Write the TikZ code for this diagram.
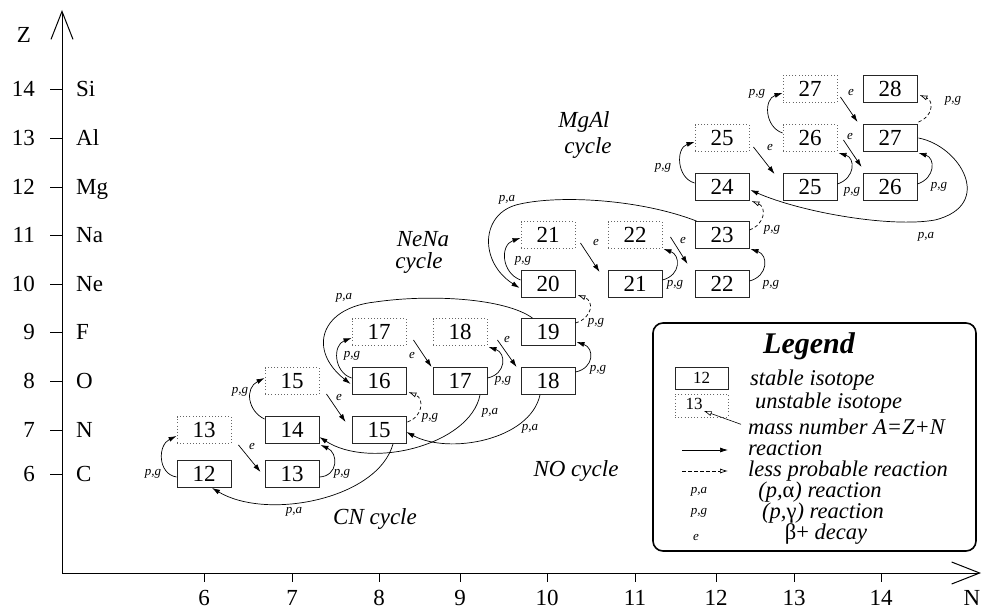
\documentclass[tikz,border=0pt]{standalone}
\usepackage{fontspec}
\setmainfont{Liberation Serif}
\usetikzlibrary{arrows.meta,calc}
\begin{document}
\begin{tikzpicture}[x=1pt,y=-1pt,
  iso/.style={draw=black!85, line width=0.9pt, minimum width=54pt, minimum height=27pt,
    inner sep=0pt, font=\fontsize{23}{23}\selectfont},
  stable/.style={iso},
  unstable/.style={iso, draw=black!60, dash pattern=on 1pt off 2.2pt},
  rx/.style={line width=0.7pt, -{Latex[length=8pt,width=5pt]}},
  weakrx/.style={line width=0.7pt, dash pattern=on 3.5pt off 2.5pt, -{Latex[open,length=8pt,width=5pt]}},
  rlab/.style={font=\fontsize{13}{13}\selectfont\itshape, inner sep=0pt},
  axlab/.style={font=\fontsize{23}{23}\selectfont, inner sep=0pt},
  axisline/.style={line width=1pt, -{Straight Barb[length=28pt,width=22pt,line width=1pt]}},
  tick/.style={line width=0.8pt},
  cyc/.style={font=\fontsize{23}{23}\selectfont\itshape, inner sep=0pt, anchor=base},
  legtxt/.style={font=\fontsize{22.5}{22.5}\selectfont\itshape, inner sep=0pt, anchor=base west},
]
\useasboundingbox (0,0) rectangle (983,610);

% ---------- axes ----------
\coordinate (O) at (62,573);
\coordinate (ztip) at (62,10);
\coordinate (ntip) at (981,573);
\draw[axisline] (O) -- (ztip);
\draw[axisline] (O) -- (ntip);
\node[axlab] (zlab) at (24,35) {Z};
\node[axlab, anchor=base] (nlab) at (972,605) {N};

\foreach \z/\el/\yy in {6/C/474, 7/N/430, 8/O/381, 9/F/332, 10/Ne/284,
                        11/Na/235, 12/Mg/187, 13/Al/138, 14/Si/89} {
  \draw[tick] (50,\yy) -- (62,\yy);
  \node[axlab, anchor=base east] (z\z) at (35,\yy+7.5) {\z};
  \node[axlab, anchor=base west] (el\z) at (76,\yy+7.5) {\el};
}
\foreach \n/\xx in {6/204, 7/292, 8/379, 9/460, 10/547, 11/635, 12/716, 13/794, 14/881} {
  \draw[tick] (\xx,573) -- (\xx,582);
  \node[axlab, anchor=base] (n\n) at (\xx,605) {\n};
}

% ---------- isotopes ----------
\node[stable]   (c12)  at (204,474) {12};
\node[unstable] (n13)  at (204,430) {13};
\node[stable]   (c13)  at (292,474) {13};
\node[stable]   (n14)  at (292,430) {14};
\node[unstable] (o15)  at (292,381) {15};
\node[stable]   (n15)  at (379,430) {15};
\node[stable]   (o16)  at (379,381) {16};
\node[unstable] (f17)  at (379,332) {17};
\node[stable]   (o17)  at (460,381) {17};
\node[unstable] (f18)  at (460,332) {18};
\node[stable]   (o18)  at (548,381) {18};
\node[stable]   (f19)  at (548,332) {19};
\node[stable]   (ne20) at (548,284) {20};
\node[unstable] (na21) at (548,235) {21};
\node[stable]   (ne21) at (635,284) {21};
\node[unstable] (na22) at (635,235) {22};
\node[stable]   (ne22) at (722,284) {22};
\node[stable]   (na23) at (722,235) {23};
\node[stable]   (mg24) at (722,187) {24};
\node[unstable] (al25) at (722,138) {25};
\node[stable]   (mg25) at (810,187) {25};
\node[unstable] (al26) at (810,138) {26};
\node[stable]   (mg26) at (890,187) {26};
\node[unstable] (si27) at (810,89)  {27};
\node[stable]   (al27) at (890,138) {27};
\node[stable]   (si28) at (890,89)  {28};

% ---------- CN cycle ----------
\draw[rx] ($(c12.west)+(0,3)$) .. controls +(-19,-3) and +(-19,9) .. ($(n13.west)+(0,6)$);
\node[rlab] (l1) at (153,474) {p,g};
\draw[rx] ($(n13.south east)+(7,1)$) -- ($(c13.west)+(-4,-2)$);
\node[rlab] (l2) at (252,446) {e};
\draw[rx] ($(c13.east)+(0,3)$) .. controls +(19,-1) and +(18,8) .. ($(n14.south east)+(1,1)$);
\node[rlab] (l3) at (342,474) {p,g};
\draw[rx] ($(n14.north west)+(0,3)$) .. controls +(-17,-8) and +(-20,10) .. ($(o15.west)+(0,-3)$);
\node[rlab] (l4) at (240,392) {p,g};
\draw[rx] ($(o15.south east)+(7,-1)$) -- ($(n15.west)+(-6,-8)$);
\node[rlab] (l5) at (339,397) {e};
\draw[rx] ($(n15.south)+(14,0)$) .. controls +(-15,55) and +(55,33) .. ($(c12.south)+(8,0)$);
\node[rlab] (l6) at (294,512) {p,a};

% ---------- NO cycle ----------
\draw[weakrx] ($(n15.east)+(1,-8)$) .. controls +(14,-4) and +(17,7) .. ($(o16.south east)+(2,-3)$);
\node[rlab] (l7) at (430,418) {p,g};
\draw[rx] ($(o16.west)+(0,-3)$) .. controls +(-18,-6) and +(-19,7) .. ($(f17.west)+(0,6)$);
\node[rlab] (l8) at (352,356) {p,g};
\draw[rx] ($(f17.east)+(7,8)$) -- ($(o17.north west)+(-1,0)$);
\node[rlab] (l9) at (412,355) {e};
\draw[rx] ($(o17.east)+(0,-3)$) .. controls +(19,-4) and +(18,6) .. ($(f18.south east)+(1,1)$);
\node[rlab] (l10) at (503,381) {p,g};
\draw[rx] ($(f18.east)+(10,8)$) -- ($(o18.west)+(-4,-14)$);
\node[rlab] (l11) at (507,339) {e};
\draw[rx] ($(o18.east)+(0,-9)$) .. controls +(19,-4) and +(18,6) .. ($(f19.south east)+(1,-4)$);
\node[rlab] (l12) at (598,370) {p,g};
\draw[rx] ($(f19.north west)+(12,0)$) .. controls +(-28,-20) and (430,294) .. (375,302)
          .. controls (320,308) and +(-43,-34) .. ($(o16.west)+(-1,3)$);
\node[rlab] (l13) at (344,298) {p,a};
\draw[rx] ($(o17.south)+(20,0)$) .. controls +(-10,50) and +(51,33) .. ($(n14.east)+(0,7)$);
\node[rlab] (l14) at (490,413) {p,a};
\draw[rx] ($(o18.south)+(-8,0)$) .. controls +(-10,45) and +(43,23) .. ($(n15.east)+(0,2)$);
\node[rlab] (l15) at (530,429) {p,a};

% ---------- NeNa cycle ----------
\draw[weakrx] ($(f19.east)+(0,-9)$) .. controls +(17,-5) and +(17,6) .. ($(ne20.south east)+(2,-3)$);
\node[rlab] (l16) at (596,323) {p,g};
\draw[rx] ($(ne20.west)+(0,-4)$) .. controls +(-19,-7) and +(-21,7) .. ($(na21.west)+(0,3)$);
\node[rlab] (l17) at (523,261) {p,g};
\draw[rx] ($(na21.east)+(5,8)$) -- ($(ne21.west)+(-8,-12)$);
\node[rlab] (l18) at (596,242) {e};
\draw[rx] ($(ne21.east)+(0,-4)$) .. controls +(19,-5) and +(17,6) .. ($(na22.south east)+(1,0)$);
\node[rlab] (l19) at (675,285) {p,g};
\draw[rx] ($(na22.east)+(8,2)$) -- ($(ne22.north west)+(-7,-6)$);
\node[rlab] (l20) at (683,240) {e};
\draw[rx] ($(ne22.east)+(0,-3)$) .. controls +(19,-5) and +(18,6) .. ($(na23.south east)+(1,0)$);
\node[rlab] (l21) at (771,285) {p,g};
\draw[rx] ($(na23.north west)+(2,0)$) .. controls +(-57,-22) and (560,195) .. (520,204)
          .. controls (480,212) and +(-41,-26) .. ($(ne20.west)+(-1,4)$);
\node[rlab] (l22) at (507,200) {p,a};
\draw[weakrx] ($(na23.east)+(0,-5)$) .. controls +(16,-6) and +(15,6) .. ($(mg24.south east)+(2,0)$);
\node[rlab] (l23) at (772,230) {p,g};

% ---------- MgAl cycle ----------
\draw[rx] ($(mg24.west)+(0,-4)$) .. controls +(-18,-5) and +(-19,6) .. ($(al25.west)+(0,4)$);
\node[rlab] (l24) at (663,168) {p,g};
\draw[rx] ($(al25.east)+(4,9)$) -- ($(mg25.west)+(-8,-13)$);
\node[rlab] (l25) at (770,147) {e};
\draw[rx] ($(mg25.east)+(0,-3)$) .. controls +(18,-6) and +(17,5) .. ($(al26.south east)+(1,1)$);
\node[rlab] (l26) at (852,192) {p,g};
\draw[rx] ($(al26.east)+(6,2)$) -- ($(mg26.north west)+(-1,-6)$);
\node[rlab] (l27) at (850,137) {e};
\draw[rx] ($(al26.west)+(0,-5)$) .. controls +(-18,-6) and +(-19,6) .. ($(si27.west)+(0,4)$);
\node[rlab] (l28) at (757,94) {p,g};
\draw[rx] ($(si27.east)+(3,8)$) -- ($(al27.west)+(-5,-16)$);
\node[rlab] (l29) at (851,93) {e};
\draw[rx] ($(mg26.east)+(0,-3)$) .. controls +(18,-6) and +(17,5) .. ($(al27.south east)+(1,1)$);
\node[rlab] (l30) at (939,187) {p,g};
\draw[weakrx] ($(al27.north east)+(1,-2)$) .. controls +(14,-5) and +(15,6) .. ($(si28.south east)+(2,-8)$);
\node[rlab] (l31) at (953,101) {p,g};
\draw[rx] ($(al27.east)+(1,0)$) .. controls +(42,8) and (995,205) .. (935,220)
          .. controls (890,228) and +(50,22) .. ($(mg24.east)+(1,3)$);
\node[rlab] (l32) at (926,237) {p,a};

% ---------- cycle names ----------
\node[cyc] (cn)    at (375,524) {CN cycle};
\node[cyc] (no)    at (576,476) {NO cycle};
\node[cyc] (nena)  at (423,246) {NeNa};
\node[cyc] (nenb)  at (419,268) {cycle};
\node[cyc] (mgal)  at (584,128) {MgAl};
\node[cyc] (mgalb) at (588,153) {cycle};

% ---------- legend ----------
\node[draw, line width=1.6pt, rounded corners=10pt, minimum width=323pt,
      minimum height=228pt, inner sep=0pt] (legend) at (814.5,437) {};
\node[font=\fontsize{30}{30}\selectfont\bfseries\itshape, inner sep=0pt, anchor=base]
      (legtitle) at (809,353) {Legend};
\node[iso, minimum width=53pt, minimum height=22pt, font=\fontsize{17}{17}\selectfont]
      (lgs) at (701.5,378) {12};
\node[unstable, minimum width=53pt, minimum height=23pt] (lgu) at (701.5,405.5) {};
\node[font=\fontsize{17}{17}\selectfont, inner sep=0pt] (lgnum) at (694,404) {13};
\node[legtxt] (lgstable)   at (750,385) {stable isotope};
\node[legtxt] (lgunstable) at (755,408) {unstable isotope};
\node[legtxt] (lgmass)     at (748,434) {mass number A=Z+N};
\draw[line width=0.6pt, -{Latex[open,length=8pt,width=5pt]}]
      ($(lgmass.west)+(-7,-2)$) -- ($(lgnum.south east)+(1,1)$);
\coordinate (lra) at (682,450);
\coordinate (lrb) at (728,450);
\draw[rx] (lra) -- (lrb);
\node[legtxt] (lgreac) at (748,455) {reaction};
\coordinate (lwa) at (682,471);
\coordinate (lwb) at (728,471);
\draw[weakrx] (lwa) -- (lwb);
\node[legtxt] (lgweak) at (748,476) {less probable reaction};
\node[rlab] (lgpa) at (699,492) {p,a};
\node[legtxt, anchor=base] (lgpat) at (820,497) {(p,{\upshape α}) reaction};
\node[rlab] (lgpg) at (699,513) {p,g};
\node[legtxt, anchor=base] (lgpgt) at (823,518) {(p,{\upshape γ}) reaction};
\node[rlab] (lge) at (696,537) {e};
\node[legtxt, anchor=base] (lget) at (826,539) {{\upshape β+} decay};
\end{tikzpicture}
\end{document}
